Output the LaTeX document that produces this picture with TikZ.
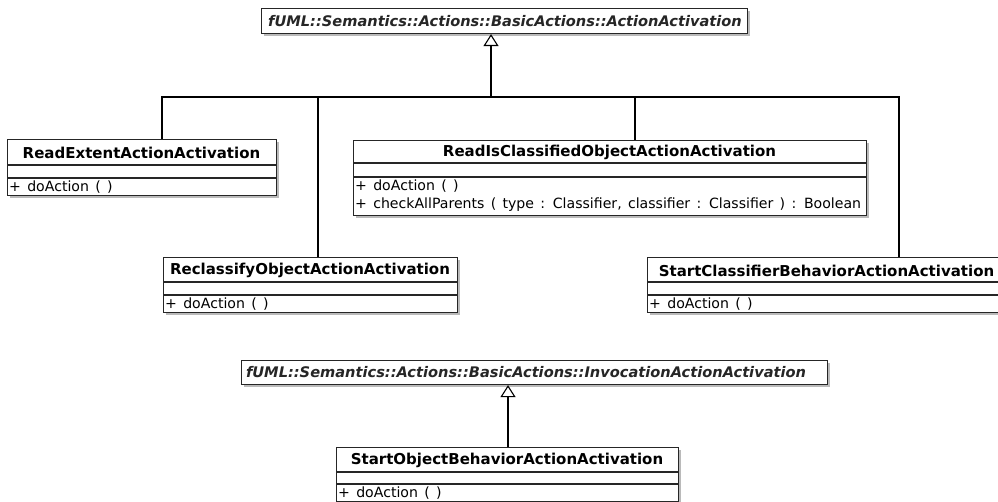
\documentclass[tikz,border=0pt]{standalone}
\usepackage{fontspec}
\setmainfont{DejaVu Sans}
\newfontfamily\opsfont[WordSpace=1.4]{DejaVu Sans}
\usetikzlibrary{arrows.meta,shadows}
\tikzset{
  classbox/.style={draw=black!85, line width=1.1pt, fill=white, inner sep=0pt, anchor=north west,
    drop shadow={shadow xshift=2.5pt, shadow yshift=-2.5pt, fill=black!45, opacity=0.6}},
  sepline/.style={draw=black!85, line width=1.1pt},
  clsname/.style={font=\fontsize{15}{18}\selectfont\bfseries, inner sep=0pt},
  abstractname/.style={font=\fontsize{14.6}{18}\selectfont\bfseries\itshape, text=black!85, inner sep=0pt},
  optext/.style={font=\opsfont\fontsize{14.1}{18}\selectfont, inner sep=0pt, anchor=west},
  conn/.style={draw=black, line width=1.1pt},
  gen/.style={conn, -{Triangle[open, length=12pt, width=15pt, fill=white]}}
}
\newcommand\umlcls[8]{%
  \node[classbox, minimum width={#4-#2}, minimum height={#5-#3}] (#1) at (#2,#3) {};
  \draw[sepline] (#2,#6) -- (#4,#6);
  \draw[sepline] (#2,#7) -- (#4,#7);
  \node[clsname] at ({(#2+#4)/2},{(#3+#6)/2+1}) {#8};
}
\begin{document}
\begin{tikzpicture}[x=1pt,y=-1pt]
\useasboundingbox (0,0) rectangle (998,502);
\fill[white] (0,0) rectangle (998,502);

% abstract parents
\node[classbox, minimum width=486, minimum height=25] (aa) at (261,8) {};
\node[abstractname] at (505,21) {fUML::Semantics::Actions::BasicActions::ActionActivation};
\node[classbox, minimum width=586, minimum height=24] (ia) at (241,360) {};
\node[abstractname] at (526,372.5) {fUML::Semantics::Actions::BasicActions::InvocationActionActivation};

% classes
\umlcls{re}{7}{139}{276}{195}{165}{178}{ReadExtentActionActivation}
\node[optext] at (9,187) {+ doAction ( )};

\umlcls{ric}{353}{140}{866}{215}{163}{177}{ReadIsClassifiedObjectActionActivation}
\node[optext] at (355,186) {+ doAction ( )};
\node[optext] at (355,205) {+ checkAllParents ( type : Classifier, classifier : Classifier ) : Boolean};

\umlcls{rc}{163}{257}{457}{312}{282}{295}{ReclassifyObjectActionActivation}
\node[optext] at (165,304) {+ doAction ( )};

\umlcls{scb}{647}{257}{1006}{312}{282}{295}{StartClassifierBehaviorActionActivation}
\node[optext] at (649,304) {+ doAction ( )};

\umlcls{sob}{336}{447}{678}{501}{472}{484}{StartObjectBehaviorActionActivation}
\node[optext] at (338,493) {+ doAction ( )};

% generalization tree
\coordinate (bus) at (491,97);
\draw[gen] (bus) -- (aa.south -| bus);
\draw[conn] ([xshift=155pt]re.north west) |- (bus);
\draw[conn] ([xshift=155pt]rc.north west) |- (bus);
\draw[conn] ([xshift=282pt]ric.north west) |- (bus);
\draw[conn] ([xshift=252pt]scb.north west) |- (bus);

\coordinate (sobt) at ([xshift=172pt]sob.north west);
\draw[gen] (sobt) -- (sobt |- ia.south);
\end{tikzpicture}
\end{document}
